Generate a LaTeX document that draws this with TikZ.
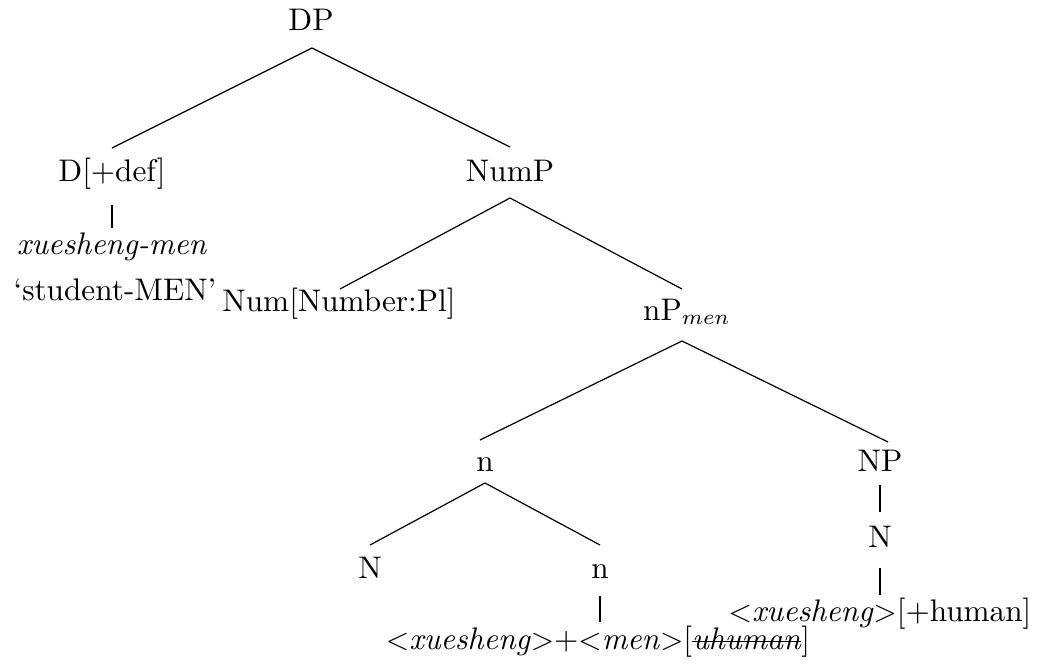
\documentclass[tikz,border=0pt]{standalone}
\usetikzlibrary{calc}
\newsavebox{\strkbox}
\newcommand\mystrike[1]{\sbox{\strkbox}{#1}\rlap{\raisebox{0.55ex}{\rule{\wd\strkbox}{0.3pt}}}\usebox{\strkbox}}
\begin{document}
\begin{tikzpicture}[x=0.333pt,y=-0.333pt,
  lab/.style={anchor=base,inner sep=0pt,font=\fontsize{10.4pt}{12.5pt}\selectfont},
  edge/.style={draw=black,line width=0.4pt}]
\useasboundingbox (0,0) rectangle (1045,669);
\node[lab] (DP) at (311,31) {DP};
\node[lab] (D) at (112,181) {D[+def]};
\node[lab] (xm) at (112,254) {\textit{xuesheng-men}};
\node[lab] (gl) at (115,300) {`student-MEN'};
\node[lab] (Num) at (339,311) {Num[Number:Pl]};
\node[lab] (NumP) at (510,181) {NumP};
\node[lab] (nP) at (687,320) {nP$_{men}$};
\node[lab] (n1) at (485,471) {n};
\node[lab] (NP) at (880,471) {NP};
\node[lab] (N1) at (370,578) {N};
\node[lab] (n2) at (600,578) {n};
\node[lab] (N2) at (880,547) {N};
\node[lab] (xh) at (880,621) {$<$\textit{xuesheng}$>$[+human]};
\node[lab] (xb) at (598,649) {$<$\textit{xuesheng}$>$+$<$\textit{men}$>$[\mystrike{\textit{uhuman}}]};
\draw[edge] ($(DP.base)+(1,17)$) -- ($(D.base)+(0,-33)$);
\draw[edge] ($(DP.base)+(1,17)$) -- ($(NumP.base)+(0,-34)$);
\draw[edge] ($(D.base)+(0,24)$) -- ($(xm.base)+(0,-26)$);
\draw[edge] ($(NumP.base)+(0,17)$) -- ($(Num.base)+(1,-22)$);
\draw[edge] ($(NumP.base)+(0,17)$) -- ($(nP.base)+(-5,-31)$);
\draw[edge] ($(nP.base)+(-5,21)$) -- ($(n1.base)+(-5,-31)$);
\draw[edge] ($(nP.base)+(-5,21)$) -- ($(NP.base)+(8,-29)$);
\draw[edge] ($(n1.base)+(0,12)$) -- ($(N1.base)+(0,-33)$);
\draw[edge] ($(n1.base)+(0,12)$) -- ($(n2.base)+(0,-33)$);
\draw[edge] ($(NP.base)+(0,14)$) -- ($(N2.base)+(0,-35)$);
\draw[edge] ($(N2.base)+(0,21)$) -- ($(xh.base)+(0,-26)$);
\draw[edge] ($(n2.base)+(0,18)$) -- ($(xb.base)+(2,-27)$);
\end{tikzpicture}
\end{document}
